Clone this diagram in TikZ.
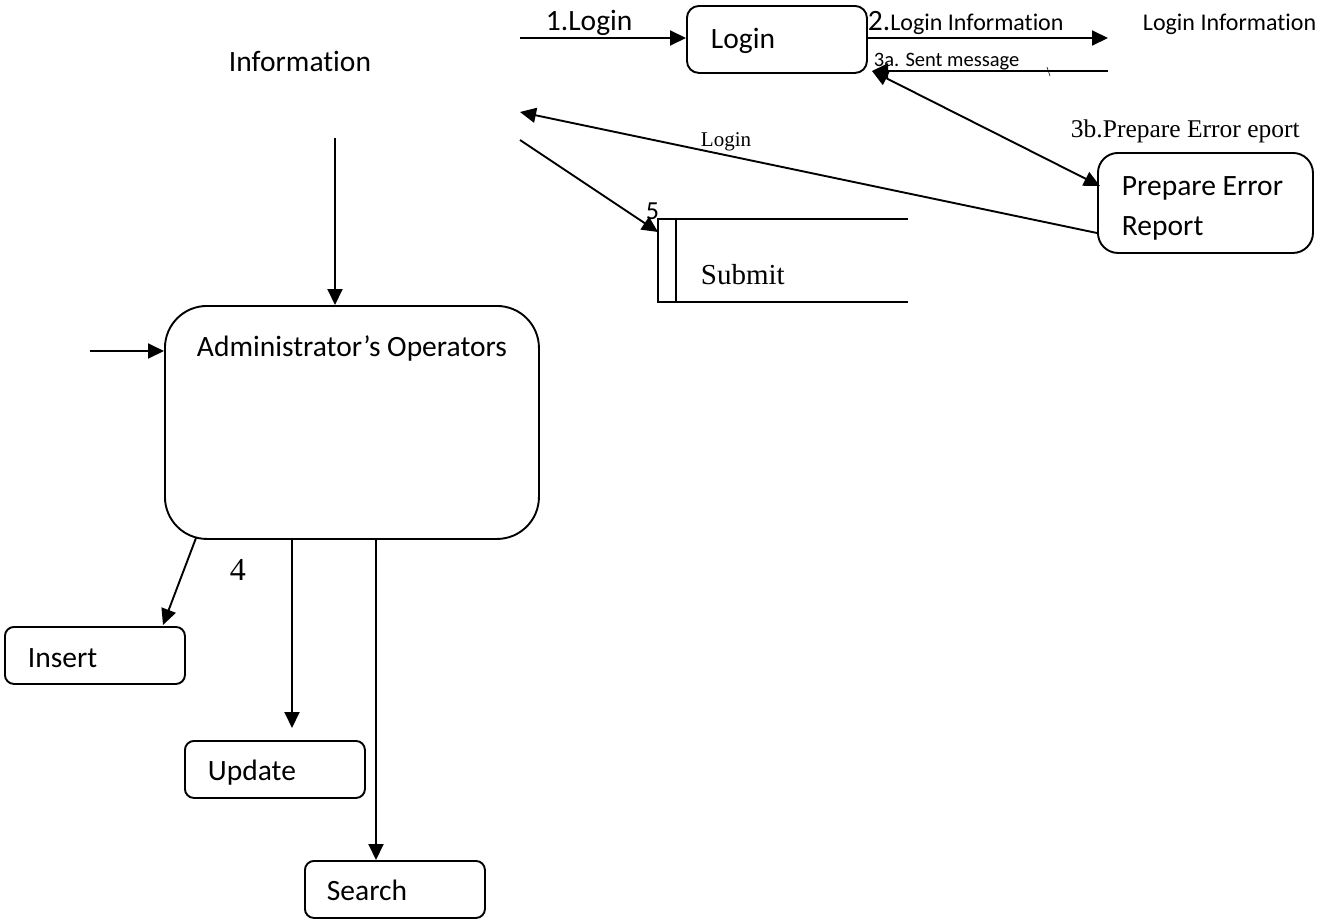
\documentclass[tikz,border=0pt]{standalone}
\usepackage{fontspec}
\setmainfont[Ligatures=NoCommon]{Carlito}
\newfontfamily\serifface{Liberation Serif}
\usetikzlibrary{arrows.meta,calc}
\begin{document}
\begin{tikzpicture}[x=1pt,y=-1pt,
  line width=1.9pt,
  arr/.style={-{Triangle[length=16pt,width=15pt]}},
  darr/.style={{Triangle[length=16pt,width=15pt]}-{Triangle[length=16pt,width=15pt]}},
  box/.style={draw,rounded corners=#1,anchor=north west,inner sep=0pt},
  txt/.style={anchor=base west,inner sep=0pt,font=\fontsize{29.5}{34}\selectfont},
  sztxt/.style={anchor=base west,inner sep=0pt,font=\fontsize{#1}{#1}\selectfont},
  sertxt/.style={anchor=base west,inner sep=0pt,font=\serifface\fontsize{#1}{#1}\selectfont}]
\useasboundingbox (0,0) rectangle (1327,921);

% boxes
\node[box=12pt,minimum width=180pt,minimum height=67pt] (login) at (686,5) {};
\node[box=20pt,minimum width=215pt,minimum height=100pt] (err) at (1097,152) {};
\node[box=42pt,minimum width=374pt,minimum height=233pt] (admin) at (164,305) {};
\node[box=9pt,minimum width=180pt,minimum height=57pt] (ins) at (4,626) {};
\node[box=9pt,minimum width=180pt,minimum height=57pt] (upd) at (184,740) {};
\node[box=9pt,minimum width=180pt,minimum height=57pt] (srch) at (304,860) {};

% data store
\coordinate (stA) at (658,219);
\coordinate (stB) at (658,302);
\draw (908,219) -- (stA) -- (stB) -- (908,302);
\draw (676,219) -- (676,302);

% texts
\node[txt] (tlogin) at (710,48) {Login};
\node[txt] (t1) at (545,30) {1.Login};
\node[txt] (t2) at (867,30) {2.\fontsize{24}{28}\selectfont Login Information};
\node[sztxt=24] (tli) at (1142,30) {Login Information};
\node[sztxt=20.5] (t3a) at (873,66) {3a. Sent message};
\node[txt] (tinfo) at (228,71) {Information};
\node[sertxt=25.5] (t3b) at (1070,137) {3b.Prepare Error eport};
\node[sertxt=21] (tlog2) at (700,146) {Login};
\node[txt] (terr1) at (1121,195) {Prepare Error};
\node[txt] (terr2) at (1121,235) {Report};
\node[sztxt=26] (t5) at (645,219) {5};
\node[sertxt=29] (tsub) at (700,284) {Submit};
\node[txt] (tadm) at (196,356) {Administrator’s Operators};
\node[sertxt=32] (t4) at (229,580) {4};
\node[txt] (tins) at (27,667) {Insert};
\node[txt] (tupd) at (207,780) {Update};
\node[txt] (tsrch) at (326,900) {Search};

% free ends
\coordinate (in1) at (520,38);
\coordinate (out2) at (1108,38);
\coordinate (in3a) at (1108,71);
\coordinate (tip3a) at (872,71);
\coordinate (end3b) at (1100,186);
\coordinate (errL) at (1097,233);
\coordinate (outLogin) at (520,112);
\coordinate (in5) at (520,140);
\coordinate (tip5) at (658,232);
\coordinate (infoIn) at (335,138);
\coordinate (admIn) at (90,351);
\coordinate (a4) at (196,538);
\coordinate (insTip) at (163,625);
\coordinate (aU) at (292,538);
\coordinate (uTip) at (292,728);
\coordinate (aS) at (376,538);

% connectors
\draw[arr] (in1) -- (in1 -| login.west);
\draw[arr] (out2 -| login.east) -- (out2);
\draw[arr] (in3a) -- (tip3a);
\draw[darr] (tip3a) -- (end3b);
\draw[arr] (errL) -- (outLogin);
\draw[arr] (in5) -- (tip5);
\draw[arr] (infoIn) -- (infoIn |- admin.north);
\draw[arr] (admIn) -- (admIn -| admin.west);
\draw[arr] (a4) -- (insTip);
\draw[arr] (aU) -- (uTip);
\draw[arr] (aS) -- (aS |- srch.north);
\draw[line width=0.6pt] (1047,67) -- (1050,76);
\end{tikzpicture}
\end{document}
